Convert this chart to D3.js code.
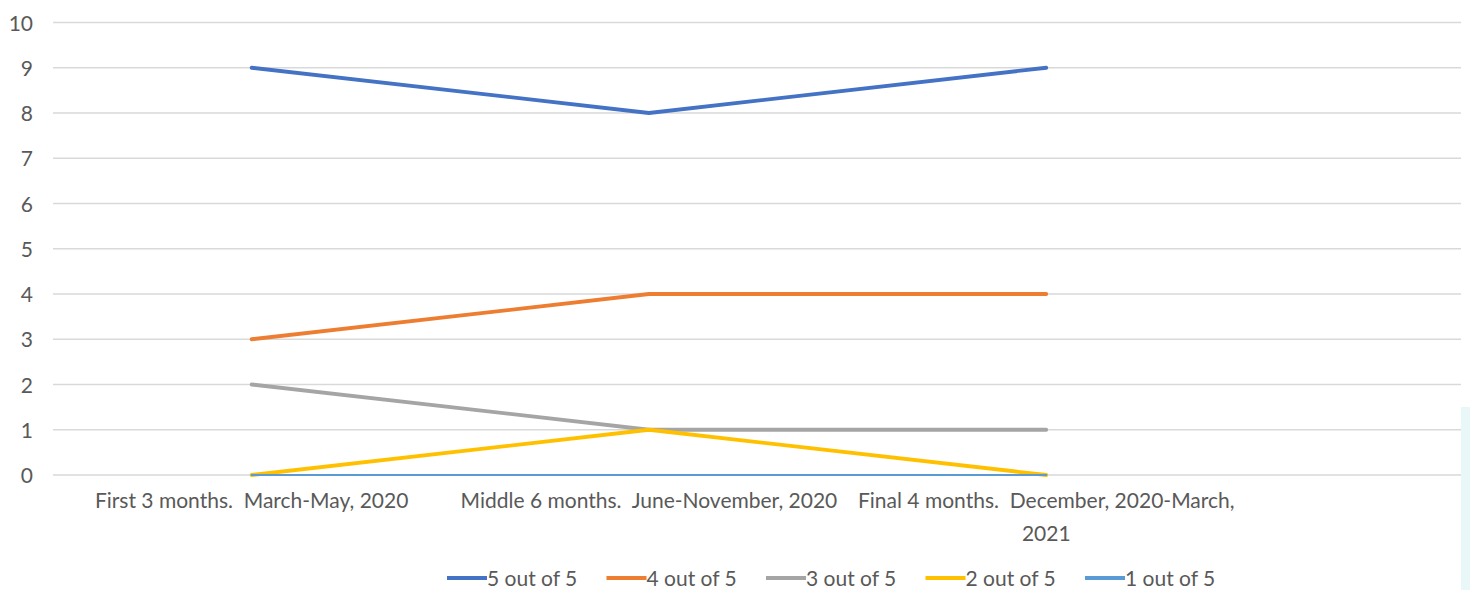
<!DOCTYPE html>
<html>
<head>
<meta charset="utf-8">
<script src="https://cdn.jsdelivr.net/npm/d3@7"></script>
<style>
  html, body { margin: 0; padding: 0; background: #ffffff; }
  svg { display: block; }
  text { font-family: Lato, "Open Sans", "Liberation Sans", sans-serif; fill: #595959; }
</style>
</head>
<body>
<svg id="chart" width="1470" height="590"></svg>
<script>
// Periods on the category axis
const categories = [
  "First 3 months.  March-May, 2020",
  "Middle 6 months.  June-November, 2020",
  "Final 4 months.  December, 2020-March, 2021"
];
// Rating series (count of responses per period)
const seriesNames = ["5 out of 5", "4 out of 5", "3 out of 5", "2 out of 5", "1 out of 5"];
const rating5 = [9, 8, 9];
const rating4 = [3, 4, 4];
const rating3 = [2, 1, 1];
const rating2 = [0, 1, 0];
const rating1 = [0, 0, 0];
const yTicks = [0, 1, 2, 3, 4, 5, 6, 7, 8, 9, 10];

const seriesValues = [rating5, rating4, rating3, rating2, rating1];
const colors = ["#4472C4", "#ED7D31", "#A5A5A5", "#FFC000", "#5B9BD5"];

const svg = d3.select("#chart");
const plotLeft = 53, plotRight = 1461, plotTop = 22.5, plotBottom = 475;
const bandWidth = 397.3;
const fontSize = 21;

const x = d3.scaleBand()
  .domain(categories)
  .range([plotLeft, plotLeft + bandWidth * categories.length])
  .paddingInner(0).paddingOuter(0);
const cx = c => x(c) + x.bandwidth() / 2;

const y = d3.scaleLinear().domain([0, 10]).range([plotBottom, plotTop]);

// Horizontal gridlines
svg.append("g")
  .selectAll("line")
  .data(yTicks)
  .join("line")
  .attr("x1", plotLeft).attr("x2", plotRight)
  .attr("y1", d => y(d)).attr("y2", d => y(d))
  .attr("stroke", "#d9d9d9").attr("stroke-width", 1.3);

// Y axis labels
const yAxis = d3.axisLeft(y).tickValues(yTicks).tickSize(0).tickPadding(0);
const yg = svg.append("g").attr("transform", "translate(33,0)").call(yAxis);
yg.select(".domain").remove();
yg.selectAll("text")
  .attr("font-size", fontSize)
  .attr("font-family", "Lato, 'Open Sans', sans-serif")
  .attr("fill", "#595959")
  .attr("dy", "0.36em");

// Category labels, wrapped to the band width
const xLabels = svg.append("g");
categories.forEach(c => {
  const t = xLabels.append("text")
    .attr("x", cx(c)).attr("y", 508)
    .attr("text-anchor", "middle")
    .attr("font-size", fontSize);
  const words = c.split(" ");
  let line = [];
  let tspan = t.append("tspan").attr("x", cx(c)).attr("dy", 0);
  words.forEach(w => {
    line.push(w);
    tspan.text(line.join(" ").replace(/\.\s/g, ".\u00a0 "));
    if (tspan.node().getComputedTextLength() > bandWidth - 6 && line.length > 1) {
      line.pop();
      tspan.text(line.join(" ").replace(/\.\s/g, ".\u00a0 "));
      line = [w];
      tspan = t.append("tspan").attr("x", cx(c)).attr("dy", 33).text(w);
    }
  });
});

// Series lines
const lineGen = d3.line()
  .x((d, i) => cx(categories[i]))
  .y(d => y(d));

svg.append("g")
  .selectAll("path")
  .data(seriesValues)
  .join("path")
  .attr("d", d => lineGen(d))
  .attr("fill", "none")
  .attr("stroke", (d, i) => colors[i])
  .attr("stroke-width", (d, i) => i === 4 ? 2 : 3.8)
  .attr("stroke-linecap", "round")
  .attr("stroke-linejoin", "round");

// Legend
const legendStartX = 447, legendY = 578, itemStep = 159.5;
const legend = svg.append("g");
seriesNames.forEach((name, i) => {
  const lx = legendStartX + i * itemStep;
  legend.append("line")
    .attr("x1", lx).attr("x2", lx + 40)
    .attr("y1", legendY).attr("y2", legendY)
    .attr("stroke", colors[i]).attr("stroke-width", 3.8);
  legend.append("text")
    .attr("x", lx + 40).attr("y", legendY)
    .attr("dy", "0.36em")
    .attr("font-size", fontSize)
    .text(name);
});

// Light panel edge at the lower right
svg.append("rect")
  .attr("x", 1461).attr("y", 407).attr("width", 9).attr("height", 183)
  .attr("fill", "#eaf7f8");
</script>
</body>
</html>
